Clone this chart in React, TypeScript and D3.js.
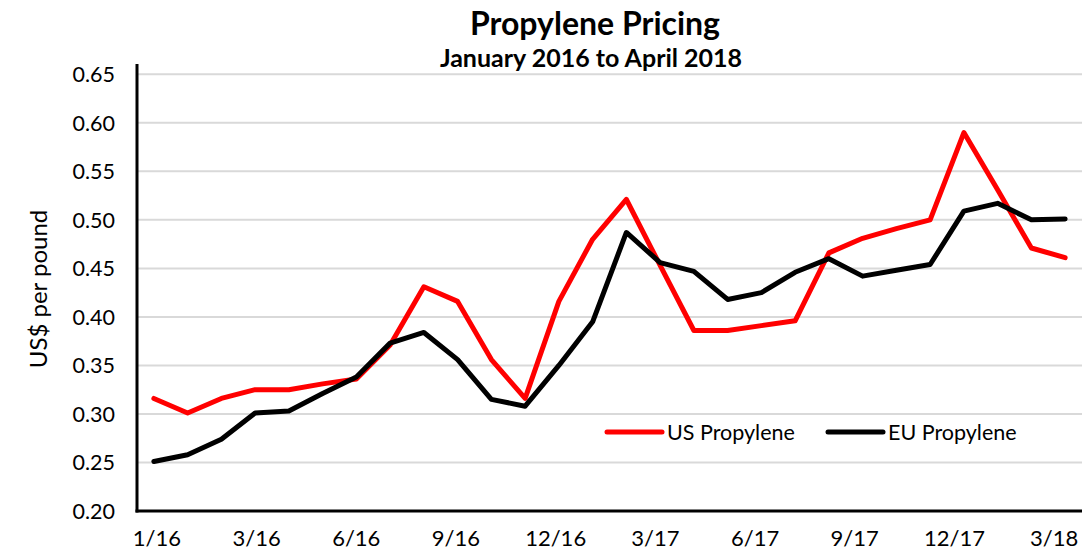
import React from "react";
import * as d3 from "d3";

const months: string[] = [
  "2016-01","2016-02","2016-03","2016-04","2016-05","2016-06","2016-07","2016-08","2016-09","2016-10","2016-11","2016-12",
  "2017-01","2017-02","2017-03","2017-04","2017-05","2017-06","2017-07","2017-08","2017-09","2017-10","2017-11","2017-12",
  "2018-01","2018-02","2018-03","2018-04",
];
const usPropylene: number[] = [
  0.316, 0.301, 0.316, 0.325, 0.325, 0.331, 0.336, 0.371, 0.431, 0.416, 0.356, 0.316,
  0.416, 0.480, 0.521, 0.453, 0.386, 0.386, 0.391, 0.396, 0.466, 0.481, 0.491, 0.500,
  0.590, 0.531, 0.471, 0.461,
];
const euPropylene: number[] = [
  0.251, 0.258, 0.274, 0.301, 0.303, 0.321, 0.338, 0.373, 0.384, 0.356, 0.315, 0.308,
  0.350, 0.395, 0.487, 0.456, 0.447, 0.418, 0.425, 0.446, 0.460, 0.442, 0.448, 0.454,
  0.509, 0.517, 0.500, 0.501,
];
const xTickLabels: string[] = ["1/16", "3/16", "6/16", "9/16", "12/16", "3/17", "6/17", "9/17", "12/17", "3/18"];
const yTicks: number[] = [0.2, 0.25, 0.3, 0.35, 0.4, 0.45, 0.5, 0.55, 0.6, 0.65];
const seriesNames: string[] = ["US Propylene", "EU Propylene"];
const seriesColors: string[] = ["#ff0000", "#000000"];

const W = 1087;
const H = 553;
const left = 137;
const right = 1082;
const top = 74.3;
const bottom = 511;
const FONT = "Lato, 'Open Sans', sans-serif";

export default function App() {
  const x = d3.scaleBand<string>().domain(months).range([left, right]).padding(0);
  const cx = (m: string) => (x(m) as number) + x.bandwidth() / 2;
  const y = d3.scaleLinear().domain([0.2, 0.65]).range([bottom, top]);
  const labelX = d3
    .scalePoint<string>()
    .domain(xTickLabels)
    .range([cx(months[0]) + 3, cx(months[months.length - 1]) - 11]);

  const line = d3
    .line<number>()
    .x((_, i) => cx(months[i]))
    .y((d) => y(d))
    .curve(d3.curveLinear);

  const series = [usPropylene, euPropylene];

  return (
    <svg
      width={W}
      height={H}
      style={{ position: "absolute", left: 0, top: 0, background: "#fff" }}
      fontFamily={FONT}
    >
      <rect x={0} y={0} width={W} height={H} fill="#fff" />
      {/* gridlines */}
      {yTicks.map((t) =>
        t === 0.2 ? null : (
          <line key={t} x1={left} x2={right} y1={y(t)} y2={y(t)} stroke="#d9d9d9" strokeWidth={2} />
        )
      )}
      {/* y tick labels */}
      {yTicks.map((t) => (
        <text
          key={"yl" + t}
          x={115}
          y={y(t)}
          dy="0.36em"
          textAnchor="end"
          fontSize={21.5}
          fill="#000"
        >
          {d3.format(".2f")(t)}
        </text>
      ))}
      {/* x tick labels */}
      {xTickLabels.map((l) => (
        <text key={l} x={labelX(l)} y={546} textAnchor="middle" fontSize={22} fill="#000">
          {l}
        </text>
      ))}
      {/* series lines */}
      {series.map((s, i) => (
        <path
          key={seriesNames[i]}
          d={line(s) || ""}
          fill="none"
          stroke={seriesColors[i]}
          strokeWidth={5}
          strokeLinejoin="round"
          strokeLinecap="round"
        />
      ))}
      {/* axes */}
      <line x1={left} x2={left} y1={64} y2={bottom + 1.5} stroke="#000" strokeWidth={3} />
      <line x1={left - 1.5} x2={right} y1={bottom} y2={bottom} stroke="#000" strokeWidth={3} />
      {/* legend */}
      {seriesNames.map((n, i) => {
        const lx = i === 0 ? 607 : 828;
        return (
          <g key={"lg" + n}>
            <line x1={lx} x2={lx + 55} y1={432} y2={432} stroke={seriesColors[i]} strokeWidth={5} strokeLinecap="round" />
            <text x={lx + 60} y={432} dy="0.36em" fontSize={21.5} fill="#000">
              {n}
            </text>
          </g>
        );
      })}
      {/* y axis title */}
      <text
        transform={`translate(47,289) rotate(-90)`}
        textAnchor="middle"
        fontSize={24}
        fill="#000"
      >
        US$ per pound
      </text>
      {/* titles */}
      <text x={595} y={35} textAnchor="middle" fontSize={32} fontWeight="bold" fill="#000">
        Propylene Pricing
      </text>
      <text x={591} y={66.5} textAnchor="middle" fontSize={25} fontWeight="bold" fill="#000">
        January 2016 to April 2018
      </text>
    </svg>
  );
}
